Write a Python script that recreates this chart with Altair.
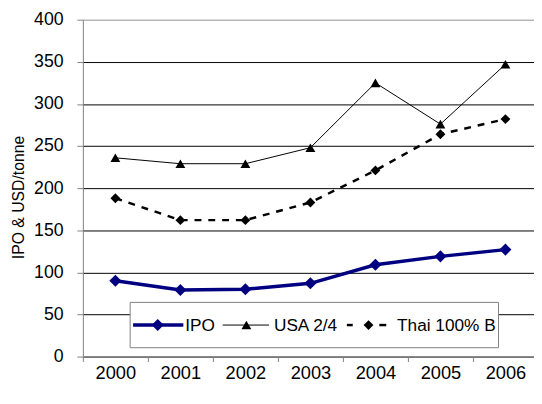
import altair as alt
import pandas as pd

years = ["2000", "2001", "2002", "2003", "2004", "2005", "2006"]
ipo = [90, 79, 80, 87, 109, 119, 127]
usa = [236, 229, 229, 248, 325, 276, 347]
thai = [188, 162, 162, 183, 221, 264, 282]
series_names = ["IPO", "USA 2/4", "Thai 100% B"]
y_ticks = [0, 50, 100, 150, 200, 250, 300, 350, 400]
y_title = "IPO & USD/tonne"

rows = []
for name, vals in zip(series_names, [ipo, usa, thai]):
    for yr, v in zip(years, vals):
        rows.append({"year": yr, "series": name, "value": v})
df = pd.DataFrame(rows)

FONT = "Liberation Sans"
W, H = 458, 342

x_enc = alt.X(
    "year:N",
    sort=years,
    scale=alt.Scale(range=[0, 462], paddingInner=0, paddingOuter=0),
    axis=alt.Axis(
        title=None, labelAngle=0, tickBand="extent", grid=False,
        domainColor="#808080", tickColor="#808080", tickSize=5,
        labelFontSize=18.5, labelFont=FONT, labelColor="#000000", labelPadding=2,
    ),
)
y_enc = alt.Y(
    "value:Q",
    scale=alt.Scale(domain=[0, 400], nice=False, zero=True),
    axis=alt.Axis(
        values=y_ticks, title=y_title, grid=True,
        gridColor={"expr": "datum.value === 400 ? '#909090' : '#000000'"},
        gridWidth=1, domainColor="#808080", tickColor="#808080", tickSize=6,
        labelFontSize=18, labelFont=FONT, labelColor="#000000", labelPadding=14,
        titleFontSize=16, titleFont=FONT, titleFontWeight="normal", titleColor="#000000",
        titleX=-65, titleY=180, titleBaseline="middle", titleAngle=270,
    ),
)

base = alt.Chart(df)

def series_layers(name, color, width, dash, shape, size):
    d = base.transform_filter(alt.datum.series == name)
    line_kwargs = dict(color=color, strokeWidth=width)
    if dash:
        line_kwargs["strokeDash"] = dash
    line = d.mark_line(**line_kwargs).encode(x=x_enc, y=y_enc)
    pts = d.mark_point(shape=shape, filled=True, size=size, color=color, opacity=1).encode(x=x_enc, y=y_enc)
    return [line, pts]

layers = []
layers += series_layers("USA 2/4", "#000000", 1, None, "triangle-up", 100)
layers += series_layers("Thai 100% B", "#000000", 2.5, [7, 7], "diamond", 100)
layers += series_layers("IPO", "#000080", 3.5, None, "diamond", 150)

# legend box
one = alt.Data(values=[{"a": 1}])
leg_y = 310
legend = [
    alt.Chart(one).mark_rect(fill="white", stroke="#808080", strokeWidth=1).encode(
        x=alt.value(48), x2=alt.value(422), y=alt.value(287), y2=alt.value(333)),
    alt.Chart(one).mark_rule(color="#000080", strokeWidth=3.5).encode(
        x=alt.value(51), x2=alt.value(102), y=alt.value(leg_y)),
    alt.Chart(one).mark_point(shape="diamond", filled=True, size=150, color="#000080", opacity=1).encode(
        x=alt.value(76), y=alt.value(leg_y)),
    alt.Chart(one).mark_rule(color="#000000", strokeWidth=1).encode(
        x=alt.value(142), x2=alt.value(189), y=alt.value(leg_y)),
    alt.Chart(one).mark_point(shape="triangle-up", filled=True, size=100, color="#000000", opacity=1).encode(
        x=alt.value(166), y=alt.value(leg_y)),
    alt.Chart(one).mark_rule(color="#000000", strokeWidth=2.5).encode(
        x=alt.value(268), x2=alt.value(274), y=alt.value(leg_y)),
    alt.Chart(one).mark_rule(color="#000000", strokeWidth=2.5).encode(
        x=alt.value(301), x2=alt.value(308), y=alt.value(leg_y)),
    alt.Chart(one).mark_point(shape="diamond", filled=True, size=100, color="#000000", opacity=1).encode(
        x=alt.value(290), y=alt.value(leg_y)),
]
for label, xpos in zip(series_names, [104, 194, 319]):
    legend.append(
        alt.Chart(one).mark_text(text=label, align="left", baseline="middle", fontSize=17.5,
                                 font=FONT, color="#000000").encode(
            x=alt.value(xpos), y=alt.value(leg_y + 1)))

chart = alt.layer(*layers, *legend).properties(
    width=W, height=H,
    autosize=alt.AutoSizeParams(type="none"),
    padding={"left": 76, "top": 9, "right": 0, "bottom": 27},
    background="white",
).configure_view(stroke=None)

chart.save("out.html", embed_options={"renderer": "svg", "actions": False})
